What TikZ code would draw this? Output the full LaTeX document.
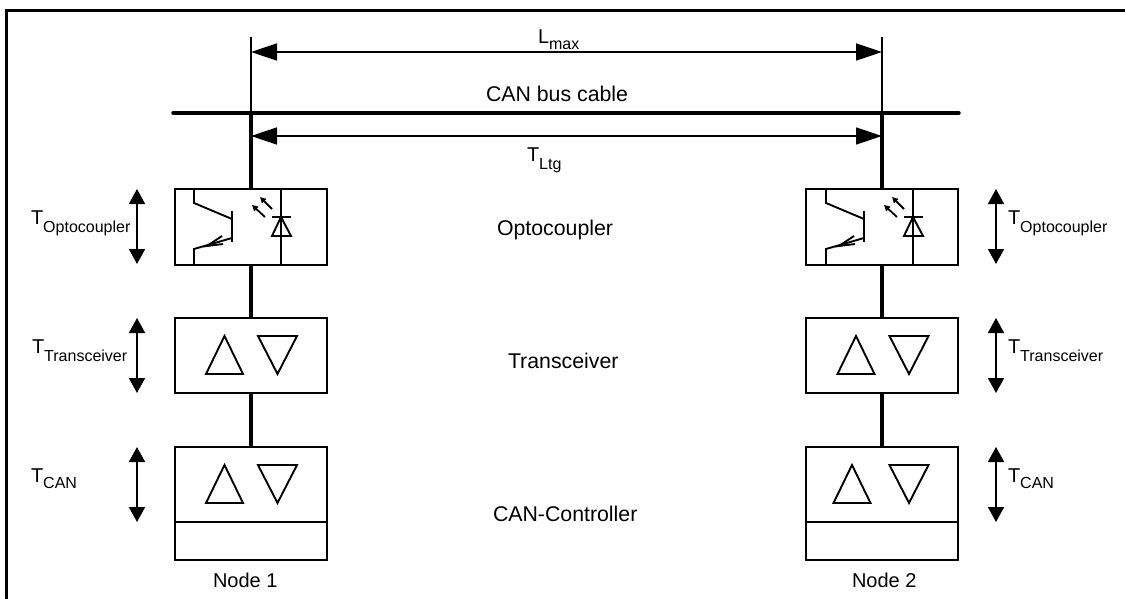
\documentclass[tikz,border=0pt]{standalone}
\usepackage{fontspec}
\setmainfont{Liberation Sans}
\usetikzlibrary{arrows.meta}
\newcommand{\dly}[2]{T\raisebox{-#2pt}{\fontsize{16}{16}\selectfont #1}}
\tikzset{
  txt/.style={anchor=base west,inner sep=0pt,outer sep=0pt,font=\fontsize{21.3}{24}\selectfont},
  dlytxt/.style={anchor=base west,inner sep=0pt,outer sep=0pt,font=\fontsize{20}{24}\selectfont},
  blockbox/.style={draw,line width=1.8pt,inner sep=0pt,outer sep=0pt,minimum width=152pt},
  sym/.style={line width=1.9pt,line join=miter},
  thickwire/.style={line width=3.4pt},
  thinwire/.style={line width=2pt},
  span/.style={line width=1.8pt,{Triangle[length=26pt,width=17pt]}-{Triangle[length=26pt,width=17pt]}},
  delay/.style={line width=1.8pt,{Triangle[length=15pt,width=16pt]}-{Triangle[length=15pt,width=16pt]}},
  light/.style={line width=1.8pt,-{Triangle[length=6pt,width=6pt]}},
  frameline/.style={line width=3pt},
}
\newcommand{\optosymbol}{%
  \draw[sym] (194,189) -- (194,203) -- (232,219);
  \draw[sym] (232,211) -- (232,242);
  \draw[sym] (232,238) -- (194,249) -- (194,265);
  \draw[sym] (222,236) -- (207,246) -- (223,244);
  \draw[sym] (281,189) -- (281,265);
  \draw[sym] (272,217) -- (291,217);
  \draw[sym] (281,217) -- (272,236) -- (291,236) -- cycle;
  \draw[light] (265,217) -- (252,205);
  \draw[light] (272,209) -- (260,197);
}
\newcommand{\drivers}[3]{%
  \draw[sym] (#1,#3+38) -- (#1+18.5,#3) -- (#1+37,#3+38) -- cycle;
  \draw[sym] (#2,#3) -- (#2+39,#3) -- (#2+19.5,#3+38) -- cycle;
}
\begin{document}
\begin{tikzpicture}[x=1pt,y=-1pt]
\useasboundingbox (0,0) rectangle (1125,599);
% frame
\coordinate (fb) at (6,599);
\coordinate (fc) at (6,11);
\coordinate (fr) at (1125,11);
\draw[frameline] (fb) -- (fc) -- (fr);
% blocks, node 1
\node[blockbox,minimum height=76pt] (o1) at (251,227) {};
\node[blockbox,minimum height=75pt] (t1) at (251,355.5) {};
\node[blockbox,minimum height=75pt] (c1) at (251,484.5) {};
\node[blockbox,minimum height=38pt] (m1) at (251,541) {};
% blocks, node 2
\node[blockbox,minimum height=76pt] (o2) at (882,227) {};
\node[blockbox,minimum height=75pt] (t2) at (882,355.5) {};
\node[blockbox,minimum height=75pt] (c2) at (882,484.5) {};
\node[blockbox,minimum height=38pt] (m2) at (882,541) {};
% bus and wires
\coordinate (busL) at (173,113);
\coordinate (busR) at (959,113);
\coordinate (j1) at (251,113);
\coordinate (j2) at (882,113);
\coordinate (top1) at (251,37);
\coordinate (top2) at (882,37);
\coordinate (lmaxL) at (251,52);
\coordinate (lmaxR) at (882,52);
\coordinate (tltgL) at (251,136);
\coordinate (tltgR) at (882,136);
\draw[thinwire] (top1) -- (j1);
\draw[thinwire] (top2) -- (j2);
\draw[thickwire,line cap=round] (busL) -- (busR);
\draw[thickwire] (j1) -- (o1.north);
\draw[thickwire] (j2) -- (o2.north);
\draw[thickwire] (o1.south) -- (t1.north);
\draw[thickwire] (o2.south) -- (t2.north);
\draw[thickwire] (t1.south) -- (c1.north);
\draw[thickwire] (t2.south) -- (c2.north);
\draw[span] (lmaxL) -- (lmaxR);
\draw[span] (tltgL) -- (tltgR);
% symbols
\optosymbol
\begin{scope}[xshift=632pt]\optosymbol\end{scope}
\drivers{206}{258}{336}
\drivers{206}{258}{465}
\drivers{837.5}{889.5}{336}
\drivers{833.5}{889.5}{465}
% delay arrows
\coordinate (da1) at (137,189); \coordinate (db1) at (137,264);
\coordinate (da2) at (137,318); \coordinate (db2) at (137,393);
\coordinate (da3) at (137,447); \coordinate (db3) at (137,522);
\coordinate (da4) at (996,189); \coordinate (db4) at (996,264);
\coordinate (da5) at (996,318); \coordinate (db5) at (996,393);
\coordinate (da6) at (996,447); \coordinate (db6) at (996,522);
\draw[delay] (da1) -- (db1);
\draw[delay] (da2) -- (db2);
\draw[delay] (da3) -- (db3);
\draw[delay] (da4) -- (db4);
\draw[delay] (da5) -- (db5);
\draw[delay] (da6) -- (db6);
% texts
\node[dlytxt] (lmax) at (538,44) {L\raisebox{-6pt}{\fontsize{16}{16}\selectfont max}};
\node[txt] (cable) at (486,102) {CAN bus cable};
\node[dlytxt] (tltg) at (527,161) {\dly{Ltg}{9}};
\node[txt] (lo) at (497,235) {Optocoupler};
\node[txt] (lt) at (508,368) {Transceiver};
\node[txt] (lc) at (493,521) {CAN-Controller};
\node[dlytxt] (to1) at (31,224) {\dly{Optocoupler}{9}};
\node[dlytxt] (tt1) at (32,353) {\dly{Transceiver}{8.5}};
\node[dlytxt] (tc1) at (31,482) {\dly{CAN}{6}};
\node[dlytxt] (to2) at (1008,224) {\dly{Optocoupler}{9}};
\node[dlytxt] (tt2) at (1008,353) {\dly{Transceiver}{8.5}};
\node[dlytxt] (tc2) at (1008,482) {\dly{CAN}{6}};
\node[dlytxt] (n1) at (213,587) {Node 1};
\node[dlytxt] (n2) at (852,587) {Node 2};
\end{tikzpicture}
\end{document}
